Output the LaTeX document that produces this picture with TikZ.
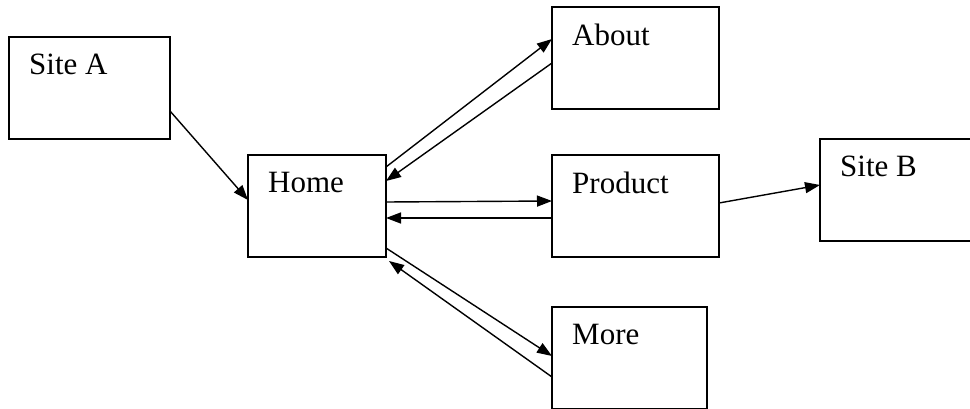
\documentclass[tikz,border=0pt]{standalone}
\usepackage{fontspec}
\setmainfont{Liberation Serif}
\usetikzlibrary{positioning, arrows.meta}

\begin{document}
\begin{tikzpicture}[x=1pt, y=-1pt,
        page/.style={draw, line width=1.7pt, inner sep=0pt, outer sep=0pt,
                     minimum width=167pt, minimum height=102pt},
        caption/.style={anchor=north west, inner sep=0pt, xshift=20pt, yshift=-17pt,
                     font=\fontsize{31}{37}\selectfont},
        arr/.style={-{Triangle[length=15pt, width=11pt]}, line width=1.4pt}]
    \useasboundingbox (0,0) rectangle (970,409);

    % Pages
    \node[page, minimum width=161pt, anchor=north west,
          label={[caption]north west:Site A}] (siteA) at (9,37) {};
    \node[page, minimum width=138pt, below right=16pt and 78pt of siteA,
          label={[caption]north west:Home}] (home) {};
    \node[page, right=166pt of home,
          label={[caption]north west:Product}] (product) {};
    \node[page, above=46pt of product,
          label={[caption]north west:About}] (about) {};
    \node[page, minimum width=155pt, below=50pt of product.south west, anchor=north west,
          label={[caption]north west:More}] (more) {};
    \node[page, minimum width=170pt, right=101pt of product.east, anchor=west, yshift=16pt,
          label={[caption]north west:Site B}] (siteB) {};

    % Links
    \draw[arr] ([yshift=-23pt]siteA.east) -- ([yshift=6pt]home.west);
    \draw[arr] ([yshift=-12pt]home.north east) -- ([yshift=-32pt]about.north west);
    \draw[arr] ([yshift=-56pt]about.north west) -- ([yshift=-26pt]home.north east);
    \draw[arr] ([yshift=4pt]home.east) -- ([yshift=5pt]product.west);
    \draw[arr] ([yshift=-12pt]product.west) -- ([yshift=-12pt]home.east);
    \draw[arr] ([yshift=3pt]product.east) -- ([yshift=5pt]siteB.west);
    \draw[arr] ([yshift=9pt]home.south east) -- ([yshift=2pt]more.west);
    \draw[arr] ([yshift=-19pt]more.west) -- ([xshift=3pt, yshift=-4pt]home.south east);
\end{tikzpicture}
\end{document}
